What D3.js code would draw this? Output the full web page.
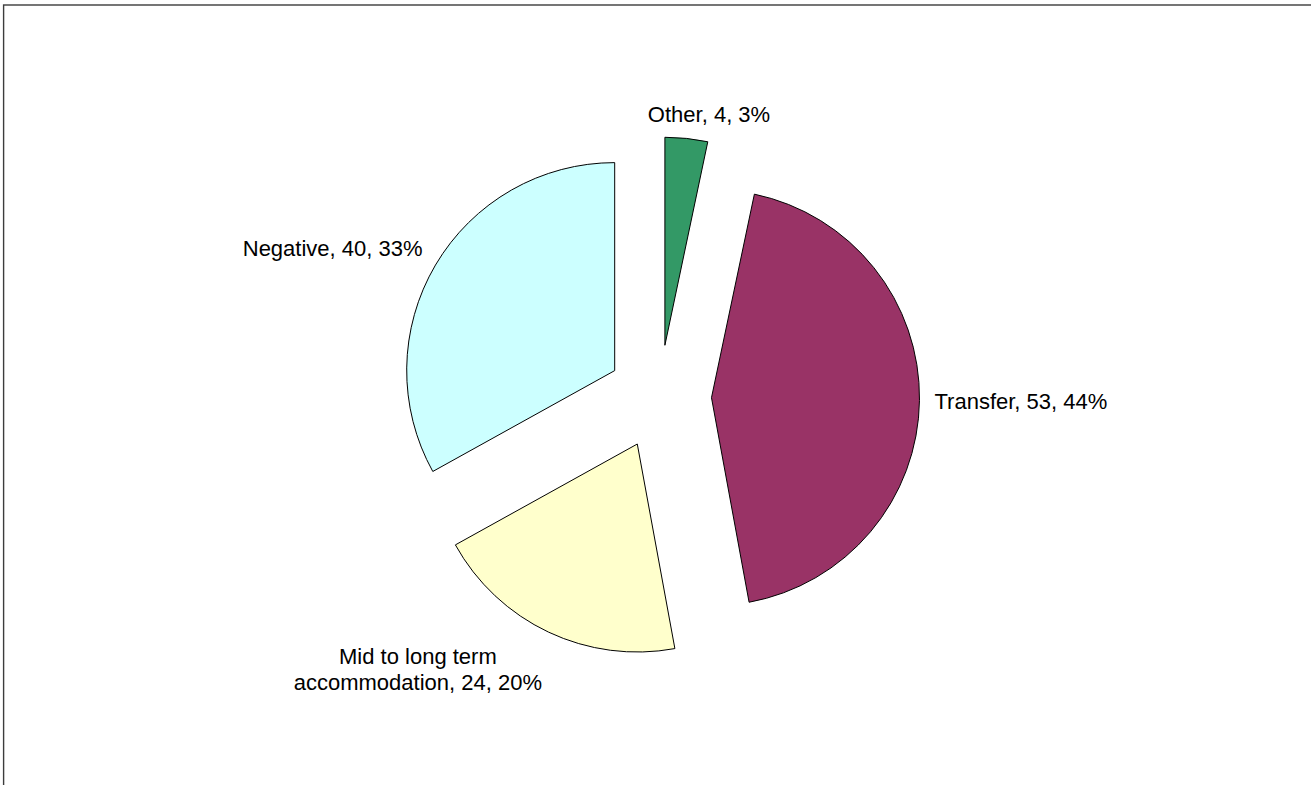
<!DOCTYPE html>
<html>
<head>
<meta charset="utf-8">
<script src="https://cdn.jsdelivr.net/npm/d3@7"></script>
<style>
  html, body { margin: 0; padding: 0; background: #fff; }
  svg { display: block; }
  .slice-label { font-family: "Liberation Sans", Arial, sans-serif; font-size: 22px; fill: #000; }
</style>
</head>
<body>
<div id="chart"></div>
<script>
// slices, clockwise from 12 o'clock
const categories = ["Other", "Transfer", "Mid to long term accommodation", "Negative"];
const counts = [4, 53, 24, 40];
const colors = ["#339966", "#993366", "#FFFFCC", "#CCFFFF"];

const width = 1311, height = 785;
const pieX = 659.5, pieY = 397;
const radius = 208;
const explode = 52;      // every slice pulled out along its bisector
const labelGap = 15;
const wrapWidth = 260;
const lineHeight = 25.7;
const labelNudge = { "Other": 21 };

const total = d3.sum(counts);
const rows = categories.map((c, i) => ({ name: c, value: counts[i], color: colors[i] }));

const svg = d3.select("#chart").append("svg")
    .attr("width", width)
    .attr("height", height);

// frame, only top and left edges fall inside the picture
svg.append("rect")
    .attr("x", 3.6)
    .attr("y", 5)
    .attr("width", width + 20)
    .attr("height", height + 20)
    .attr("fill", "none")
    .attr("stroke", "#3c3c3c")
    .attr("stroke-width", 1.4);

const pie = d3.pie().sort(null).value(d => d.value);
const arc = d3.arc().innerRadius(0).outerRadius(radius);

const arcs = pie(rows);

const g = svg.append("g")
    .attr("transform", "translate(" + pieX + "," + pieY + ")");

g.selectAll("path.slice")
    .data(arcs)
    .enter().append("path")
    .attr("class", "slice")
    .attr("d", arc)
    .attr("transform", function(d) {
        const a = (d.startAngle + d.endAngle) / 2;
        return "translate(" + (explode * Math.sin(a)) + "," + (-explode * Math.cos(a)) + ")";
    })
    .attr("fill", d => d.data.color)
    .attr("stroke", "#000")
    .attr("stroke-width", 1);

// helper to measure text width
const probe = svg.append("text").attr("class", "slice-label").attr("visibility", "hidden");
function textWidth(s) {
    probe.text(s);
    return probe.node().getComputedTextLength();
}

function wrap(str) {
    const words = str.split(" ");
    const lines = [];
    let line = words[0];
    for (let i = 1; i < words.length; i++) {
        const test = line + " " + words[i];
        if (textWidth(test) > wrapWidth) {
            lines.push(line);
            line = words[i];
        } else {
            line = test;
        }
    }
    lines.push(line);
    return lines;
}

const labels = svg.append("g");

arcs.forEach(function(d) {
    const a = (d.startAngle + d.endAngle) / 2;
    const s = Math.sin(a), c = -Math.cos(a);
    const rr = radius + explode + labelGap;
    const px = pieX + rr * s + (labelNudge[d.data.name] || 0);
    const py = pieY + rr * c;

    const pct = Math.round(d.data.value / total * 100);
    const lines = wrap(d.data.name + ", " + d.data.value + ", " + pct + "%");
    const blockW = d3.max(lines, l => textWidth(l));
    const n = lines.length;

    let midX;
    if (s > 0.3) midX = px + blockW / 2;
    else if (s < -0.3) midX = px - blockW / 2;
    else midX = px;

    let firstBase;
    if (c < -0.3) firstBase = py - 1 - (n - 1) * lineHeight;
    else if (c > 0.3) firstBase = py + 18.7;
    else firstBase = py + 8.5 - (n - 1) * lineHeight / 2;

    labels.selectAll(null)
        .data(lines)
        .enter().append("text")
        .attr("class", "slice-label")
        .attr("text-anchor", "middle")
        .attr("x", midX)
        .attr("y", (l, i) => firstBase + i * lineHeight)
        .text(l => l);
});

probe.remove();
</script>
</body>
</html>
